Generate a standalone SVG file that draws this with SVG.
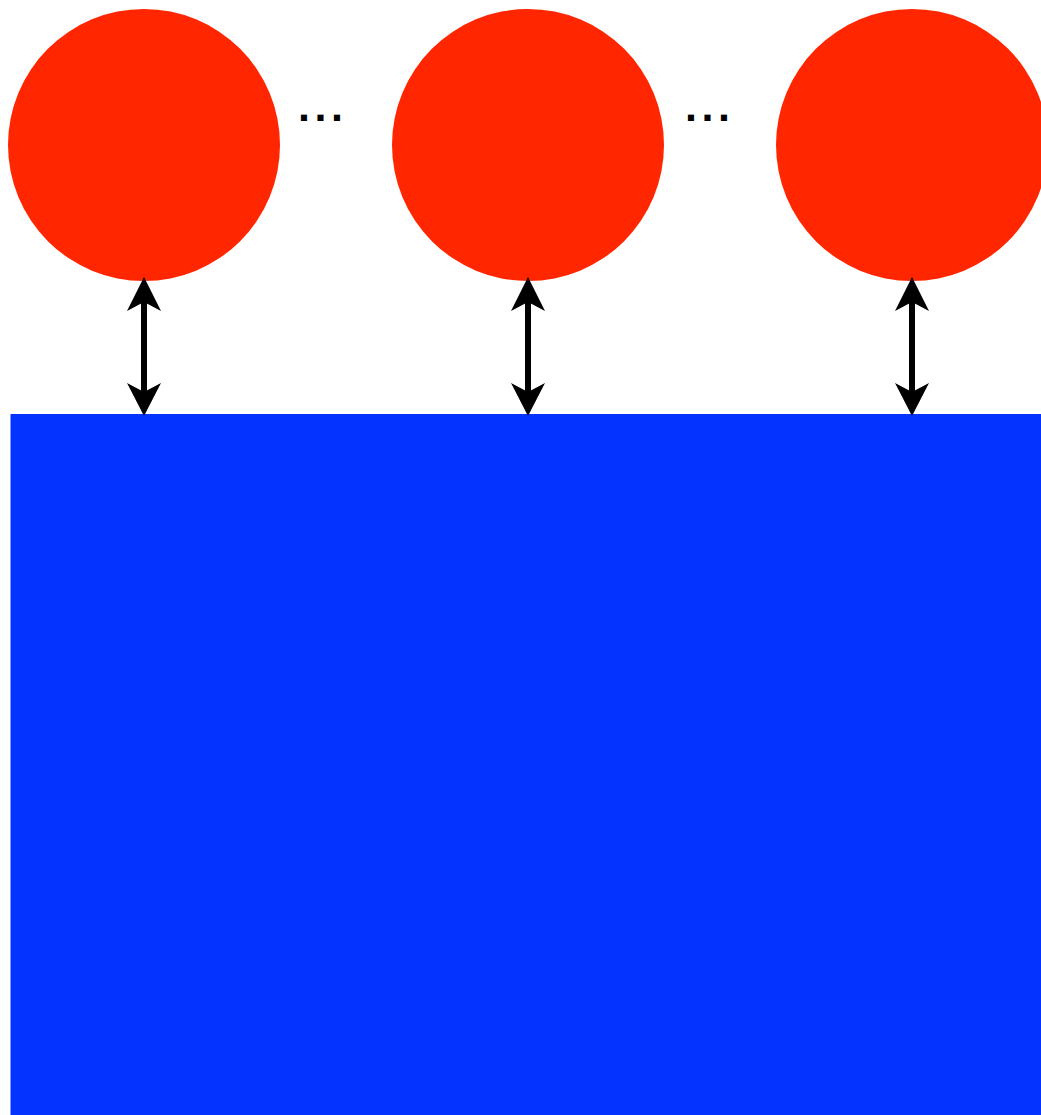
<svg xmlns="http://www.w3.org/2000/svg" xmlns:xlink="http://www.w3.org/1999/xlink" width="1041" height="1115" viewBox="0 0 1041 1115">
  <style>
    .worker { fill: #ff2600; }
    .store { fill: #0433ff; }
    .link { stroke: #000; stroke-width: 6; fill: none; }
    .head { fill: #000; }
    .dots { font-family: "Liberation Sans", Arial, sans-serif; font-size: 43px; font-weight: bold; letter-spacing: 4.5px; fill: #000; }
  </style>
  <defs>
    <!-- double-headed vertical arrow, centred on x=0 -->
    <g id="biArrow">
      <line class="link" x1="0" y1="298" x2="0" y2="396"/>
      <path class="head" d="M0,277 L17,311 L0,302 L-17,311 Z"/>
      <path class="head" d="M0,416 L17,383 L0,392 L-17,383 Z"/>
    </g>
  </defs>

  <rect width="1041" height="1115" fill="#fff"/>

  <g id="store">
    <rect class="store" x="10.5" y="414" width="1040" height="710"/>
  </g>

  <g id="worker-1">
    <circle class="worker" cx="144" cy="145" r="136"/>
  </g>
  <g id="worker-2">
    <circle class="worker" cx="528" cy="145" r="136"/>
  </g>
  <g id="worker-3">
    <circle class="worker" cx="912" cy="145" r="136"/>
  </g>

  <g id="ellipsis-1">
    <text class="dots" x="298" y="121">...</text>
  </g>
  <g id="ellipsis-2">
    <text class="dots" x="685" y="121">...</text>
  </g>

  <g id="connectors">
    <use xlink:href="#biArrow" x="144"/>
    <use xlink:href="#biArrow" x="528"/>
    <use xlink:href="#biArrow" x="912"/>
  </g>
</svg>
